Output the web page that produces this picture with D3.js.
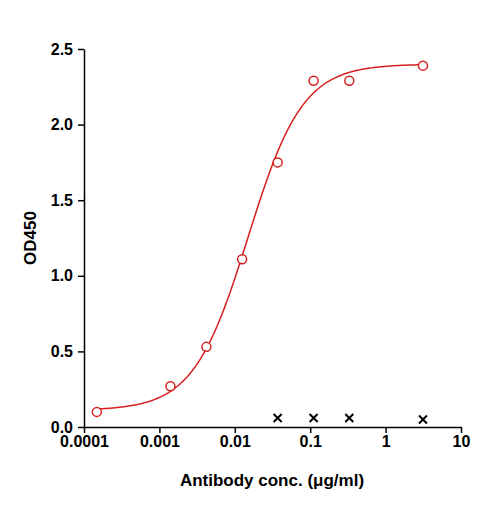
<!DOCTYPE html>
<html><head><meta charset="utf-8">
<script src="https://cdn.jsdelivr.net/npm/d3@7"></script>
<style>body{margin:0;background:#fff}</style>
</head><body><div id="chart"></div>
<script>
const concs = [0.000148, 0.0014, 0.0042, 0.0125, 0.037, 0.111, 0.33, 3.13];
const od = [0.10, 0.27, 0.53, 1.11, 1.75, 2.29, 2.29, 2.39];
const ctrlConcs = [0.037, 0.111, 0.33, 3.13];
const ctrlOd = [0.06, 0.06, 0.06, 0.05];
const xTicks = [0.0001, 0.001, 0.01, 0.1, 1, 10];
const xTickLabels = ["0.0001", "0.001", "0.01", "0.1", "1", "10"];
const yTicks = [0, 0.5, 1, 1.5, 2, 2.5];
// 4PL fit parameters
const fit = {bottom: 0.11, top: 2.40, ec50: 0.015, hill: 1.2};

const W = 485, H = 508;
const svg = d3.select("#chart").append("svg").attr("width", W).attr("height", H);
const x = d3.scaleLog().domain([0.0001, 10]).range([84, 461]);
const y = d3.scaleLinear().domain([0, 2.5]).range([427, 49]);
const font = "'Liberation Sans', Arial, sans-serif";

const xa = svg.append("g").attr("transform", "translate(0,427)")
    .call(d3.axisBottom(x).tickValues(xTicks).tickFormat((d, i) => xTickLabels[i]).tickSize(6).tickSizeOuter(0));
const ya = svg.append("g").attr("transform", "translate(84,0)")
    .call(d3.axisLeft(y).tickValues(yTicks).tickFormat(d3.format(".1f")).tickSize(6).tickSizeOuter(0));
[xa, ya].forEach(a => {
    a.selectAll("path,line").attr("stroke", "#000").attr("stroke-width", 1.5);
    a.selectAll("text").attr("font-family", font).attr("font-weight", "bold").attr("font-size", 16).attr("fill", "#000");
});
ya.selectAll("text").attr("dx", -2);

// fitted curve
const curveX = d3.range(-3.83, 0.52, 0.02).map(v => Math.pow(10, v));
const f = c => fit.bottom + (fit.top - fit.bottom) / (1 + Math.pow(fit.ec50 / c, fit.hill));
svg.append("path").datum(curveX)
    .attr("d", d3.line().x(d => x(d)).y(d => y(f(d))))
    .attr("fill", "none").attr("stroke", "#d62020").attr("stroke-width", 1.5);

svg.selectAll("circle.pt").data(concs).enter().append("circle")
    .attr("cx", d => x(d)).attr("cy", (d, i) => y(od[i])).attr("r", 4.5)
    .attr("fill", "#fff").attr("stroke", "#d62020").attr("stroke-width", 1.5);

svg.selectAll("path.x").data(ctrlConcs).enter().append("path")
    .attr("d", (d, i) => { const cx = x(d), cy = y(ctrlOd[i]); return `M${cx-4},${cy-4}L${cx+4},${cy+4}M${cx-4},${cy+4}L${cx+4},${cy-4}`; })
    .attr("stroke", "#000").attr("stroke-width", 2);

svg.append("text").attr("x", 272).attr("y", 486).attr("text-anchor", "middle")
    .attr("font-family", font).attr("font-weight", "bold").attr("font-size", 17).text("Antibody conc. (μg/ml)");
svg.append("text").attr("transform", "translate(36,238) rotate(-90)").attr("text-anchor", "middle")
    .attr("font-family", font).attr("font-weight", "bold").attr("font-size", 17).text("OD450");
</script></body></html>
